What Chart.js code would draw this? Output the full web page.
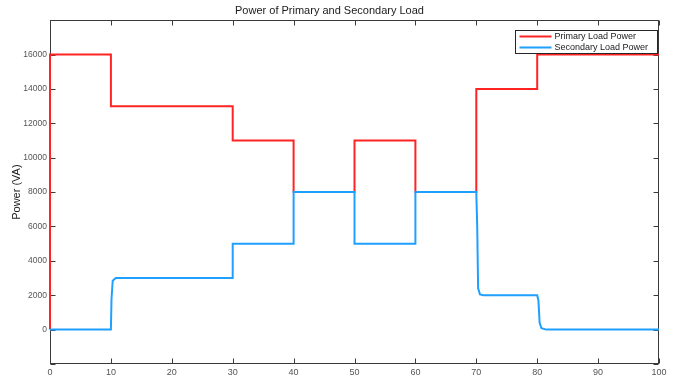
<!DOCTYPE html>
<html>
<head>
<meta charset="utf-8">
<script src="https://cdn.jsdelivr.net/npm/chart.js@4.4.0/dist/chart.umd.min.js"></script>
<style>
  html, body { margin: 0; padding: 0; background: #fff; }
  #wrap { width: 677px; height: 383px; }
</style>
</head>
<body>
<div id="wrap"><canvas id="powerChart"></canvas></div>
<script>
'use strict';

// step data (time in s, power in VA)
var primaryTime = [0, 0, 10, 10, 30, 30, 40, 40, 50, 50, 60, 60, 70, 70, 80, 80, 100];
var primaryPower = [0, 16000, 16000, 13000, 13000, 11000, 11000, 8000, 8000, 11000, 11000, 8000, 8000, 14000, 14000, 16000, 16000];

var secondaryTime = [0, 10, 10.1, 10.3, 10.8, 30, 30, 40, 40, 50, 50, 60, 60, 70, 70.15, 70.3, 70.6, 71.2, 80, 80.2, 80.4, 80.7, 81.5, 100];
var secondaryPower = [0, 0, 1800, 2850, 3000, 3000, 5000, 5000, 8000, 8000, 5000, 5000, 8000, 8000, 6000, 2400, 2050, 2000, 2000, 1700, 400, 80, 0, 0];

var yLabelTicks = [0, 2000, 4000, 6000, 8000, 10000, 12000, 14000, 16000];

var axisColor = '#3a3a3a';
var labelColor = '#555555';
var fontFamily = '"Liberation Sans", Arial, Helvetica, sans-serif';

var toPoints = function (xs, ys) {
  return xs.map(function (t, i) { return { x: t, y: ys[i] }; });
};

// MATLAB-like box with inward ticks on all four sides, plus the boxed legend
var matlabFrame = {
  id: 'matlabFrame',
  beforeDatasetsDraw: function (chart) {
    var ctx = chart.ctx;
    var a = chart.chartArea;
    var xs = chart.scales.x;
    var ys = chart.scales.y;
    var L = Math.round(a.left) + 0.5, R = Math.round(a.right) - 0.5;
    var T = Math.round(a.top) + 0.5, B = Math.round(a.bottom) - 0.5;
    var tl = 5;

    ctx.save();
    ctx.strokeStyle = axisColor;
    ctx.lineWidth = 1;
    ctx.strokeRect(L, T, R - L, B - T);

    ctx.beginPath();
    xs.ticks.forEach(function (t) {
      var px = Math.round(xs.getPixelForValue(t.value)) + 0.5;
      ctx.moveTo(px, B); ctx.lineTo(px, B - tl);
      ctx.moveTo(px, T); ctx.lineTo(px, T + tl);
    });
    ys.ticks.forEach(function (t) {
      var py = Math.round(ys.getPixelForValue(t.value)) + 0.5;
      ctx.moveTo(L, py); ctx.lineTo(L + tl, py);
      ctx.moveTo(R, py); ctx.lineTo(R - tl, py);
    });
    ctx.stroke();
    ctx.restore();
  },
  afterDraw: function (chart) {
    var ctx = chart.ctx;
    var a = chart.chartArea;
    var items = [chart.data.datasets[0], chart.data.datasets[1]];
    var boxW = 142, boxH = 23;
    var bx = Math.round(a.right) - boxW - 1.5, by = Math.round(a.top) + 10.5;

    ctx.save();
    ctx.fillStyle = '#fff';
    ctx.fillRect(bx, by, boxW, boxH);
    ctx.strokeStyle = '#262626';
    ctx.lineWidth = 1;
    ctx.strokeRect(bx, by, boxW, boxH);
    ctx.font = '9px ' + fontFamily;
    ctx.textBaseline = 'middle';
    ctx.textAlign = 'left';
    items.forEach(function (ds, i) {
      var cy = by + 6 + i * 11;
      ctx.strokeStyle = ds.borderColor;
      ctx.lineWidth = 2;
      ctx.beginPath();
      ctx.moveTo(bx + 4, cy); ctx.lineTo(bx + 36, cy);
      ctx.stroke();
      ctx.fillStyle = '#1a1a1a';
      ctx.fillText(ds.label, bx + 39, cy);
    });
    ctx.restore();
  }
};

var ctx = document.getElementById('powerChart').getContext('2d');
var chart = new Chart(ctx, {
  type: 'line',
  data: {
    datasets: [{
      label: 'Primary Load Power',
      data: toPoints(primaryTime, primaryPower),
      borderColor: '#ff2424',
      borderWidth: 2,
      pointRadius: 0,
      tension: 0,
      clip: 2,
      order: 1
    }, {
      label: 'Secondary Load Power',
      data: toPoints(secondaryTime, secondaryPower),
      borderColor: '#1fa0ff',
      borderWidth: 2,
      pointRadius: 0,
      tension: 0,
      clip: 2,
      order: 0
    }]
  },
  options: {
    responsive: true,
    maintainAspectRatio: false,
    animation: false,
    events: [],
    layout: { padding: { left: 0, right: 18, top: 0, bottom: 0 } },
    plugins: {
      legend: { display: false },
      tooltip: { enabled: false },
      title: {
        display: true,
        text: 'Power of Primary and Secondary Load',
        color: '#1a1a1a',
        font: { family: fontFamily, size: 11, weight: 'normal' },
        padding: { top: 4, bottom: 3 }
      }
    },
    scales: {
      x: {
        type: 'linear',
        min: 0,
        max: 100,
        ticks: {
          stepSize: 10,
          color: labelColor,
          padding: 3,
          font: { family: fontFamily, size: 9 }
        },
        grid: { display: false, drawTicks: false, tickLength: 0 },
        border: { display: false },
        afterFit: function (scale) { scale.height = 19; }
      },
      y: {
        type: 'linear',
        min: -2000,
        max: 18000,
        ticks: {
          stepSize: 2000,
          color: labelColor,
          padding: 3,
          font: { family: fontFamily, size: 8.5 },
          callback: function (v) {
            return yLabelTicks.indexOf(v) >= 0 ? String(v) : '';
          }
        },
        title: {
          display: true,
          text: 'Power (VA)',
          color: '#1a1a1a',
          font: { family: fontFamily, size: 11 },
          padding: { top: 10, bottom: 0 }
        },
        grid: { display: false, drawTicks: false, tickLength: 0 },
        border: { display: false },
        afterFit: function (scale) { scale.width = 50; }
      }
    }
  },
  plugins: [matlabFrame]
});
</script>
</body>
</html>
